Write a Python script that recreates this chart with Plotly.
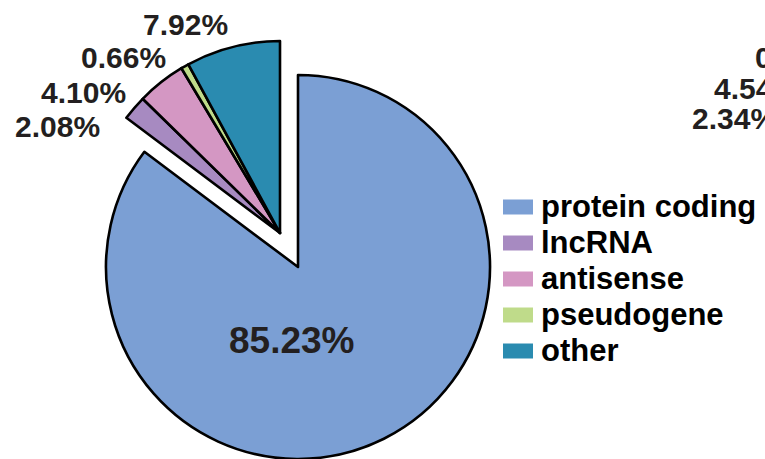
import plotly.graph_objects as go

# ---- data ----
categories = ["protein coding", "lncRNA", "antisense", "pseudogene", "other"]
percentages = [85.23, 2.08, 4.10, 0.66, 7.92]
colors = ["#7b9fd4", "#a78ac1", "#d497c3", "#bfdb8a", "#2a8bb0"]
# partially visible labels of a neighbouring chart (cut off at the right edge)
right_partial_labels = ["0.66%", "4.54%", "2.34%"]

W, H = 765, 459
TRANSP = "rgba(0,0,0,0)"
LW = 2.6

def px_x(x):
    return x / W

def px_y(y):
    return 1 - y / H

fig = go.Figure()

# main (protein coding) slice
fig.add_trace(go.Pie(
    labels=categories, values=percentages, sort=False, direction="clockwise",
    rotation=0, textinfo="none", hoverinfo="label+percent", showlegend=False,
    marker=dict(colors=[colors[0]] + [TRANSP] * 4,
                line=dict(color="black", width=[LW, 0, 0, 0, 0])),
    domain=dict(x=[px_x(106), px_x(490)], y=[0, 384 / H]),
))

# exploded group of minor slices
fig.add_trace(go.Pie(
    labels=categories, values=percentages, sort=False, direction="clockwise",
    rotation=0, textinfo="none", hoverinfo="label+percent", showlegend=False,
    marker=dict(colors=[TRANSP] + colors[1:],
                line=dict(color="black", width=[0, LW, LW, LW, LW])),
    domain=dict(x=[px_x(88), px_x(472)], y=[px_y(425), px_y(41)]),
))

txt_color = "#231f20"
FONT = "Liberation Sans, Arial, sans-serif"
font_lab = dict(family=FONT, size=30, color=txt_color)

annotations = []
# big label
annotations.append(dict(x=px_x(292), y=px_y(340), xref="paper", yref="paper",
                        xanchor="center", yanchor="middle",
                        text=f"<b>{percentages[0]:.2f}%</b>", showarrow=False,
                        font=dict(family=FONT, size=37, color=txt_color)))
# minor labels (lncRNA, antisense, pseudogene, other)
minor_pos = [(57, 126), (83, 93), (123, 57), (185, 25)]
for val, (x, y) in zip(percentages[1:], minor_pos):
    annotations.append(dict(x=px_x(x), y=px_y(y), xref="paper", yref="paper",
                            xanchor="center", yanchor="middle",
                            text=f"<b>{val:.2f}%</b>", showarrow=False, font=font_lab))
# right-side partial labels
right_pos = [(753, 57), (712, 88), (690, 118)]
for t, (x, y) in zip(right_partial_labels, right_pos):
    annotations.append(dict(x=px_x(x), y=px_y(y), xref="paper", yref="paper",
                            xanchor="left", yanchor="middle",
                            text=f"<b>{t}</b>", showarrow=False, font=font_lab))

# manual legend
shapes = []
row_y = [207, 243, 279, 315, 351]
for cat, col, y in zip(categories, colors, row_y):
    shapes.append(dict(type="rect", xref="paper", yref="paper",
                       x0=px_x(503), x1=px_x(533), y0=px_y(y + 7.5), y1=px_y(y - 7.5),
                       fillcolor=col, line=dict(width=0)))
    annotations.append(dict(x=px_x(539), y=px_y(y - 1), xref="paper", yref="paper",
                            xanchor="left", yanchor="middle",
                            text=f"<b>{cat}</b>", showarrow=False,
                            font=dict(family=FONT, size=31, color="#000000")))

fig.update_layout(
    width=W, height=H, margin=dict(l=0, r=0, t=0, b=0),
    paper_bgcolor="white", plot_bgcolor="white",
    annotations=annotations, shapes=shapes, showlegend=False,
)

fig.write_html("out.html")
